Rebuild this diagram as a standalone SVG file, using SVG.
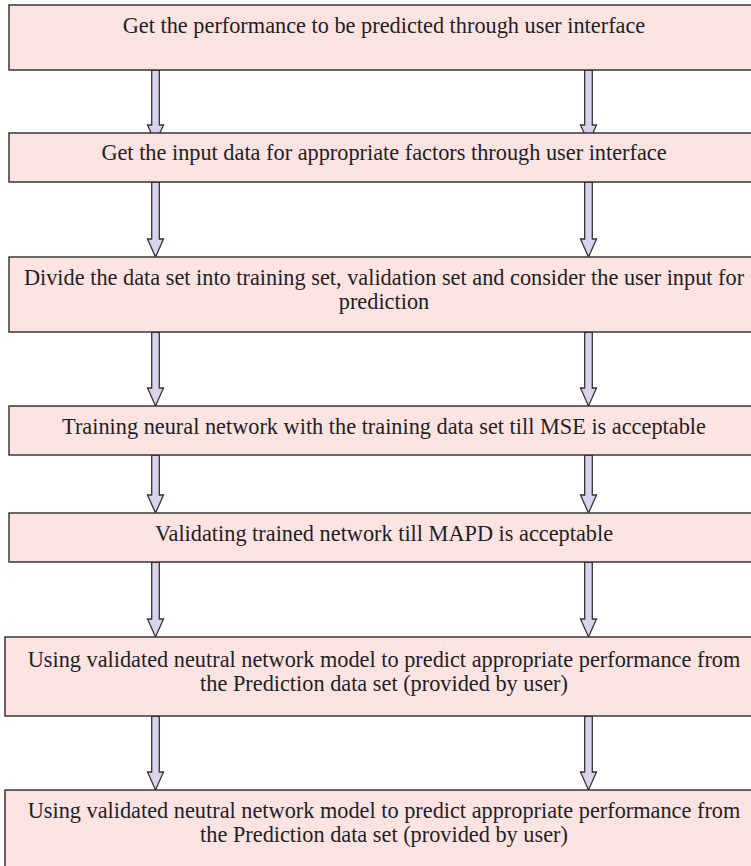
<svg xmlns="http://www.w3.org/2000/svg" width="751" height="866" viewBox="0 0 751 866">
  <style>
    .box { fill: #fee3e3; stroke: #2a2a2a; stroke-width: 1.4; }
    .lbl { font-family: "Liberation Serif", "Times New Roman", serif; font-size: 22.3px; fill: #1e1e1e; text-anchor: middle; }
    .arrow { fill: #dcd1ec; stroke: #333333; stroke-width: 1.3; stroke-linejoin: miter; }
  </style>
  <defs>
    <!-- block arrow pointing down, 18px head; translate to place the tip -->
  </defs>

  <!-- connectors are drawn first so the boxes sit on top of their tails -->
  <g id="connectors">
    <!-- box 1 -> box 2 -->
    <polygon class="arrow" points="151.7,70 159.3,70 159.3,125 163.5,125 155.5,143 147.5,125 151.7,125"/>
    <polygon class="arrow" points="584.7,70 592.3,70 592.3,125 596.5,125 588.5,143 580.5,125 584.7,125"/>
    <!-- box 2 -> box 3 -->
    <polygon class="arrow" points="151.7,182 159.3,182 159.3,239 163.5,239 155.5,257 147.5,239 151.7,239"/>
    <polygon class="arrow" points="584.7,182 592.3,182 592.3,239 596.5,239 588.5,257 580.5,239 584.7,239"/>
    <!-- box 3 -> box 4 -->
    <polygon class="arrow" points="151.7,332 159.3,332 159.3,388 163.5,388 155.5,406 147.5,388 151.7,388"/>
    <polygon class="arrow" points="584.7,332 592.3,332 592.3,388 596.5,388 588.5,406 580.5,388 584.7,388"/>
    <!-- box 4 -> box 5 -->
    <polygon class="arrow" points="151.7,455 159.3,455 159.3,495 163.5,495 155.5,513 147.5,495 151.7,495"/>
    <polygon class="arrow" points="584.7,455 592.3,455 592.3,495 596.5,495 588.5,513 580.5,495 584.7,495"/>
    <!-- box 5 -> box 6 -->
    <polygon class="arrow" points="151.7,562 159.3,562 159.3,619 163.5,619 155.5,637 147.5,619 151.7,619"/>
    <polygon class="arrow" points="584.7,562 592.3,562 592.3,619 596.5,619 588.5,637 580.5,619 584.7,619"/>
    <!-- box 6 -> box 7 -->
    <polygon class="arrow" points="151.7,716 159.3,716 159.3,772 163.5,772 155.5,790 147.5,772 151.7,772"/>
    <polygon class="arrow" points="584.7,716 592.3,716 592.3,772 596.5,772 588.5,790 580.5,772 584.7,772"/>
  </g>

  <g id="step1">
    <rect class="box" x="9" y="5" width="760" height="65"/>
    <text class="lbl" x="384" y="33">Get the performance to be predicted through user interface</text>
  </g>

  <g id="step2">
    <rect class="box" x="9" y="133" width="760" height="49"/>
    <text class="lbl" x="384" y="160">Get the input data for appropriate factors through user interface</text>
  </g>

  <g id="step3">
    <rect class="box" x="9" y="257" width="760" height="75"/>
    <text class="lbl" x="384" y="285">Divide the data set into training set, validation set and consider the user input for</text>
    <text class="lbl" x="384" y="309">prediction</text>
  </g>

  <g id="step4">
    <rect class="box" x="9" y="406" width="760" height="49"/>
    <text class="lbl" x="384" y="434">Training neural network with the training data set till MSE is acceptable</text>
  </g>

  <g id="step5">
    <rect class="box" x="9" y="513" width="760" height="49"/>
    <text class="lbl" x="384" y="541">Validating trained network till MAPD is acceptable</text>
  </g>

  <g id="step6">
    <rect class="box" x="5" y="637" width="764" height="79"/>
    <text class="lbl" x="384" y="667">Using validated neutral network model to predict appropriate performance from</text>
    <text class="lbl" x="384" y="691">the Prediction data set (provided by user)</text>
  </g>

  <g id="step7">
    <rect class="box" x="5" y="790" width="764" height="90"/>
    <text class="lbl" x="384" y="818">Using validated neutral network model to predict appropriate performance from</text>
    <text class="lbl" x="384" y="842">the Prediction data set (provided by user)</text>
  </g>
</svg>
